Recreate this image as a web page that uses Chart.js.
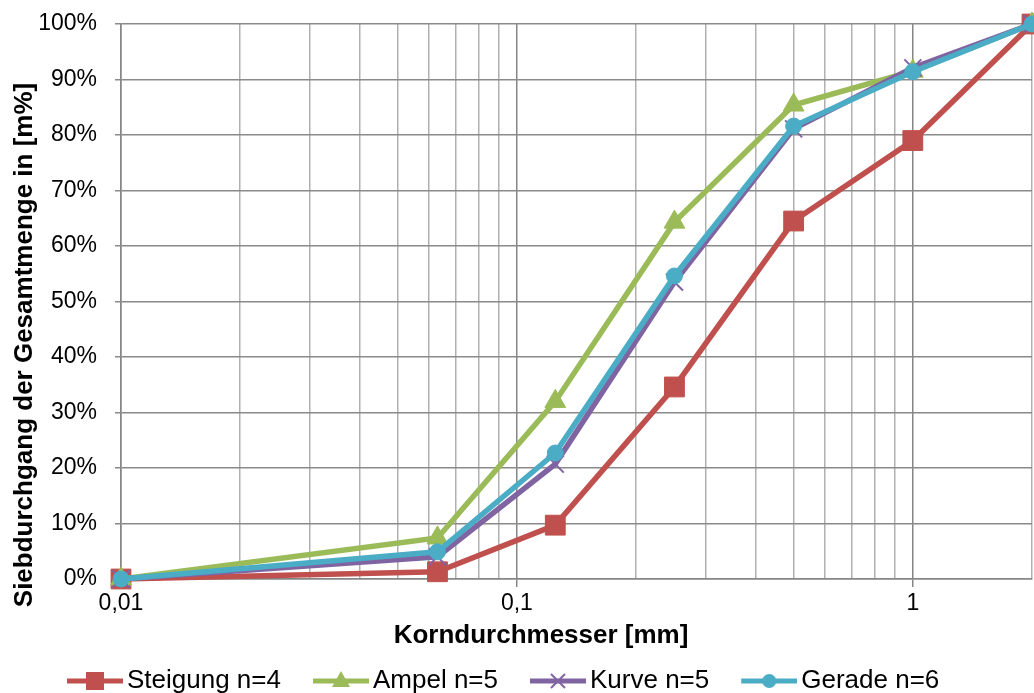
<!DOCTYPE html>
<html>
<head>
<meta charset="utf-8">
<script src="https://cdn.jsdelivr.net/npm/chart.js@4/dist/chart.umd.min.js"></script>
<style>
  html, body { margin: 0; padding: 0; background: #fff; }
  #wrap { width: 1034px; height: 693px; }
</style>
</head>
<body>
<div id="wrap"><canvas id="sieveChart"></canvas></div>
<script>
"use strict";

// Korngrößen in mm (Siebweiten)
const grainSizes = [0.01, 0.063, 0.125, 0.25, 0.5, 1, 2];

// Siebdurchgang in %
const steigung = [0, 1.3, 9.7, 34.6, 64.5, 79.0, 100];
const ampel    = [0, 7.4, 32.0, 64.3, 85.4, 91.5, 100];
const kurve    = [0, 4.0, 20.7, 53.5, 81.1, 92.1, 100];
const gerade   = [0, 4.9, 22.7, 54.6, 81.6, 91.4, 100];

const seriesNames = ["Steigung n=4", "Ampel n=5", "Kurve n=5", "Gerade n=6"];
const seriesColors = ["#C0504D", "#9BBB59", "#8064A2", "#4BACC6"];

const xTitle = "Korndurchmesser [mm]";
const yTitle = "Siebdurchgang der Gesamtmenge in [m%]";

const FONT = "'Liberation Sans', Arial, sans-serif";

function toPoints(values) {
    return values.map((v, i) => ({ x: grainSizes[i], y: v }));
}

function isDecade(v) {
    const l = Math.log10(v);
    return Math.abs(l - Math.round(l)) < 1e-9;
}

// Chart.js puts extra ticks at 1.5 x 10^n, Excel does not
function isHalfStep(v) {
    const m = v / Math.pow(10, Math.floor(Math.log10(v) + 1e-9));
    return Math.abs(m - 1.5) < 1e-6;
}

// legend picture: blank space on the left, then line with marker
const ICON_W = 94, LINE_W = 56;
function legendIcon(color, style) {
    const c = document.createElement("canvas");
    c.width = ICON_W;
    c.height = 24;
    const g = c.getContext("2d");
    g.strokeStyle = color;
    g.fillStyle = color;
    g.lineWidth = 5;
    g.beginPath();
    g.moveTo(ICON_W - LINE_W, 12);
    g.lineTo(ICON_W, 12);
    g.stroke();
    const cx = ICON_W - LINE_W / 2, cy = 12;
    g.beginPath();
    if (style === "rect") {
        g.fillRect(cx - 9, cy - 9, 18, 18);
    } else if (style === "triangle") {
        g.moveTo(cx, cy - 10);
        g.lineTo(cx + 9, cy + 6);
        g.lineTo(cx - 9, cy + 6);
        g.closePath();
        g.fill();
    } else if (style === "crossRot") {
        g.lineWidth = 2;
        g.moveTo(cx - 7, cy - 7); g.lineTo(cx + 7, cy + 7);
        g.moveTo(cx + 7, cy - 7); g.lineTo(cx - 7, cy + 7);
        g.stroke();
    } else {
        g.arc(cx, cy, 7, 0, Math.PI * 2);
        g.fill();
    }
    return c;
}

const markerStyles = ["rect", "triangle", "crossRot", "circle"];
const markerRadius = [14, 12, 12, 8];
const allValues = [steigung, ampel, kurve, gerade];

const datasets = allValues.map((vals, i) => ({
    label: seriesNames[i],
    data: toPoints(vals),
    borderColor: seriesColors[i],
    backgroundColor: seriesColors[i],
    pointBackgroundColor: seriesColors[i],
    pointBorderColor: seriesColors[i],
    borderWidth: 5.5,
    pointStyle: markerStyles[i],
    pointRadius: markerRadius[i],
    pointBorderWidth: i === 2 ? 2 : 1,
    tension: 0,
    clip: false,
    order: 4 - i
}));

const icons = markerStyles.map((s, i) => legendIcon(seriesColors[i], s));

// axis titles placed like in the original sheet
const axisTitles = {
    id: "axisTitles",
    afterDraw(chart) {
        const ctx = chart.ctx;
        ctx.save();
        ctx.fillStyle = "#000";
        ctx.font = "bold 26px " + FONT;
        ctx.textAlign = "center";
        ctx.textBaseline = "middle";
        ctx.fillText(xTitle, 541, 636);
        ctx.translate(25, 345);
        ctx.rotate(-Math.PI / 2);
        ctx.fillText(yTitle, 0, 0);
        ctx.restore();
    }
};

new Chart(document.getElementById("sieveChart"), {
    type: "line",
    data: { datasets: datasets },
    plugins: [axisTitles],
    options: {
        responsive: true,
        maintainAspectRatio: false,
        animation: false,
        layout: { autoPadding: false, padding: { top: 24, right: 2, left: 35, bottom: -11 } },
        plugins: {
            legend: {
                position: "bottom",
                align: "start",
                labels: {
                    usePointStyle: true,
                    pointStyleWidth: 76,
                    padding: 3,
                    color: "#000",
                    font: { family: FONT, size: 26 },
                    generateLabels: (chart) => chart.data.datasets.map((ds, i) => ({
                        text: ds.label,
                        pointStyle: icons[i],
                        fillStyle: ds.borderColor,
                        strokeStyle: ds.borderColor,
                        lineWidth: 0,
                        datasetIndex: i,
                        hidden: false
                    }))
                }
            },
            tooltip: { enabled: false }
        },
        scales: {
            x: {
                type: "logarithmic",
                min: 0.01,
                max: 2,
                afterBuildTicks: (scale) => {
                    scale.ticks = scale.ticks.filter(t => !isHalfStep(t.value));
                },
                ticks: {
                    autoSkip: false,
                    maxRotation: 0,
                    color: "#000",
                    font: { family: FONT, size: 23 },
                    padding: 3,
                    callback: (v) => isDecade(v) ? String(v).replace(".", ",") : ""
                },
                grid: {
                    color: (ctx) => ctx.tick && isDecade(ctx.tick.value) ? "#868686" : "#b0b0b0",
                    tickColor: (ctx) => ctx.tick && isDecade(ctx.tick.value) ? "#868686" : "rgba(0,0,0,0)",
                    tickLength: 8,
                    lineWidth: 1.5
                },
                border: { color: "#868686", width: 1.5 },
                afterFit: (scale) => {
                    scale.height = 86;
                    scale.paddingLeft = 0;
                    scale.paddingRight = 0;
                }
            },
            y: {
                min: 0,
                max: 100,
                ticks: {
                    stepSize: 10,
                    color: "#000",
                    font: { family: FONT, size: 23 },
                    padding: 18,
                    callback: (v) => v + "%"
                },
                grid: { color: "#8a8a8a", tickLength: 6, lineWidth: 1.5 },
                border: { color: "#868686", width: 1.5 },
                afterFit: (scale) => {
                    scale.width = 86;
                    scale.paddingTop = 0;
                    scale.paddingBottom = 0;
                }
            }
        }
    }
});
</script>
</body>
</html>
